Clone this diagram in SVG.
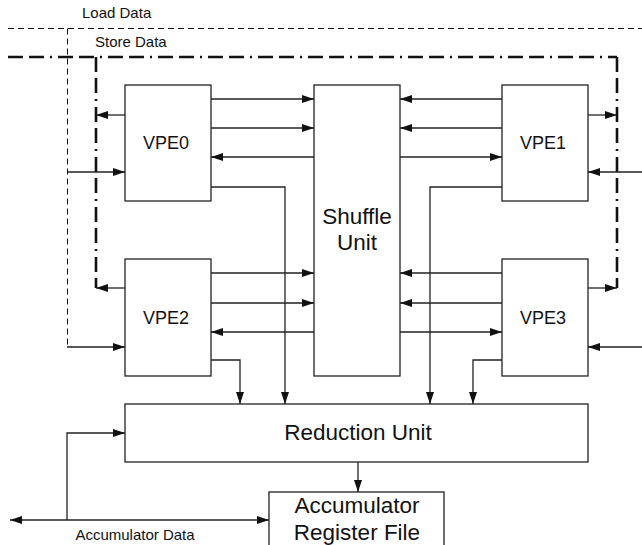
<svg xmlns="http://www.w3.org/2000/svg" width="642" height="545" viewBox="0 0 642 545">
<style>
.box{fill:#fff;stroke:#222;stroke-width:1.3}
.c{fill:none;stroke:#222;stroke-width:1.3}
.ld{fill:none;stroke:#111;stroke-width:1;stroke-dasharray:6 4}
.sd{fill:none;stroke:#111;stroke-width:2.6;stroke-dasharray:15 6 15 6 2 6}
text{font-family:"Liberation Sans",Arial,sans-serif;fill:#111}
.lbl{font-size:15px}
.vpe{font-size:18px;text-anchor:middle}
.big{font-size:22.5px;text-anchor:middle}
</style>
<defs>
<marker id="ah" viewBox="0 0 12 8" refX="12" refY="4" markerWidth="12" markerHeight="8" markerUnits="userSpaceOnUse" orient="auto-start-reverse">
<path d="M0,0 L12,4 L0,8 Z" fill="#111"/>
</marker>
</defs>
<g id="buses">
<path class="ld" d="M8,28.5 H642 M67.5,28.5 V347"/>
<path class="sd" d="M8,57 H617 M96,57 V288 M617,57 V288"/>
<text class="lbl" x="82" y="18">Load Data</text>
<text class="lbl" x="95" y="47">Store Data</text>
</g>
<g id="vpe0"><rect class="box" x="125" y="85" width="86" height="116"/><text class="vpe" x="166" y="149">VPE0</text></g>
<g id="vpe1"><rect class="box" x="502" y="85" width="86" height="116"/><text class="vpe" x="543" y="149">VPE1</text></g>
<g id="vpe2"><rect class="box" x="125" y="259" width="86" height="117"/><text class="vpe" x="166" y="324">VPE2</text></g>
<g id="vpe3"><rect class="box" x="502" y="259" width="86" height="117"/><text class="vpe" x="543" y="324">VPE3</text></g>
<g id="shuffle"><rect class="box" x="314" y="85" width="86" height="291"/><text class="big" x="357" y="224">Shuffle</text><text class="big" x="357" y="250">Unit</text></g>
<g id="reduction"><rect class="box" x="125" y="404" width="463" height="58"/><text class="big" x="358" y="440">Reduction Unit</text></g>
<g id="accum"><rect class="box" x="269" y="492" width="175" height="70"/><text class="big" x="357" y="513">Accumulator</text><text class="big" x="357" y="540">Register File</text></g>
<g id="connectors">
<path class="c" d="M125,115 H96" marker-end="url(#ah)"/>
<path class="c" d="M211,99 H314" marker-end="url(#ah)"/>
<path class="c" d="M211,128 H314" marker-end="url(#ah)"/>
<path class="c" d="M314,157 H211" marker-end="url(#ah)"/>
<path class="c" d="M211,187 H285 V404" marker-end="url(#ah)"/>
<path class="c" d="M67,172 H125" marker-end="url(#ah)"/>
<path class="c" d="M502,99 H400" marker-end="url(#ah)"/>
<path class="c" d="M502,128 H400" marker-end="url(#ah)"/>
<path class="c" d="M400,157 H502" marker-end="url(#ah)"/>
<path class="c" d="M502,187 H430 V404" marker-end="url(#ah)"/>
<path class="c" d="M588,115 H617" marker-end="url(#ah)"/>
<path class="c" d="M642,172 H588" marker-end="url(#ah)"/>
<path class="c" d="M125,288 H96" marker-end="url(#ah)"/>
<path class="c" d="M211,273 H314" marker-end="url(#ah)"/>
<path class="c" d="M211,303 H314" marker-end="url(#ah)"/>
<path class="c" d="M314,332 H211" marker-end="url(#ah)"/>
<path class="c" d="M67,347 H125" marker-end="url(#ah)"/>
<path class="c" d="M211,360 H240 V404" marker-end="url(#ah)"/>
<path class="c" d="M502,273 H400" marker-end="url(#ah)"/>
<path class="c" d="M502,303 H400" marker-end="url(#ah)"/>
<path class="c" d="M400,332 H502" marker-end="url(#ah)"/>
<path class="c" d="M502,360 H473 V404" marker-end="url(#ah)"/>
<path class="c" d="M588,288 H617" marker-end="url(#ah)"/>
<path class="c" d="M642,347 H588" marker-end="url(#ah)"/>
<path class="c" d="M358,462 V492" marker-end="url(#ah)"/>
<path class="c" d="M10,520 H269" marker-start="url(#ah)" marker-end="url(#ah)"/>
<path class="c" d="M67,520 V433 H125" marker-end="url(#ah)"/>
</g>
<text class="lbl" x="135" y="540" text-anchor="middle">Accumulator Data</text>
</svg>
